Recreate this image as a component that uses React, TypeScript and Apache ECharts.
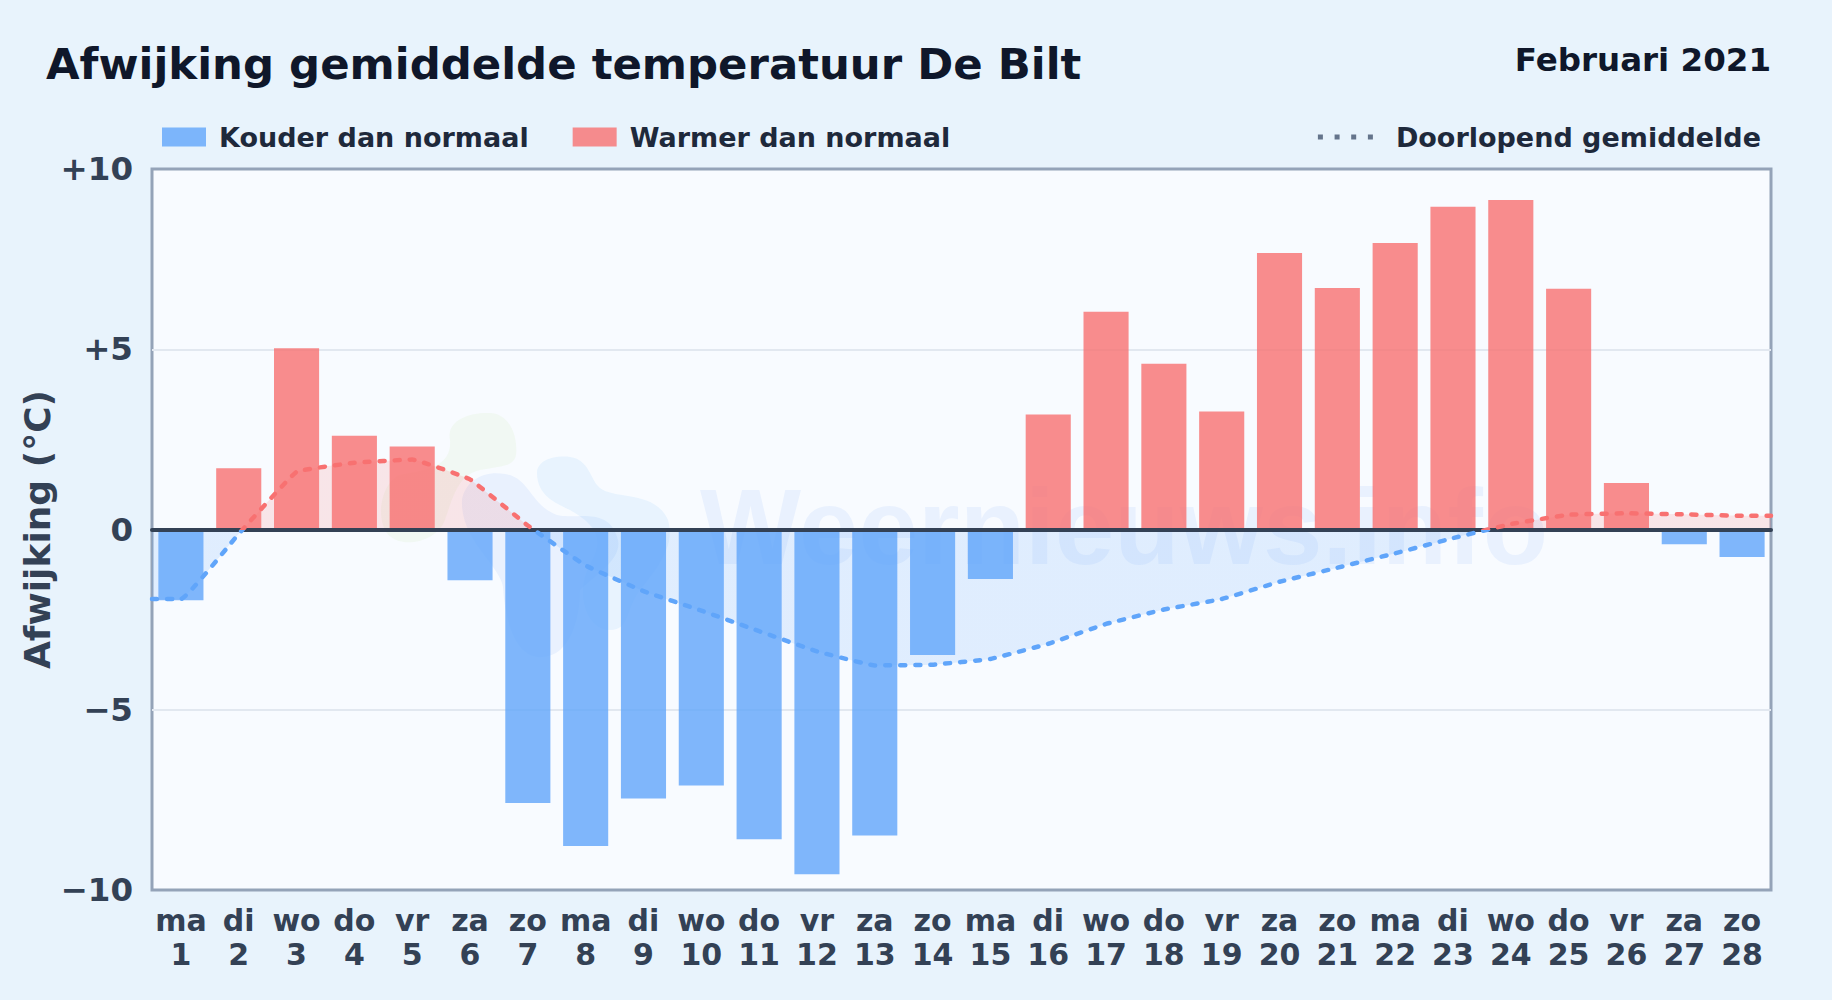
import React, { useEffect, useRef } from "react";
import * as echarts from "echarts";

const dayNames = ["ma","di","wo","do","vr","za","zo","ma","di","wo","do","vr","za","zo","ma","di","wo","do","vr","za","zo","ma","di","wo","do","vr","za","zo"];
const dayNumbers = [1,2,3,4,5,6,7,8,9,10,11,12,13,14,15,16,17,18,19,20,21,22,23,24,25,26,27,28];
const deviation = [-1.96,1.7,5.03,2.6,2.3,-1.41,-7.59,-8.78,-7.46,-7.1,-8.59,-9.56,-8.49,-3.48,-1.37,3.19,6.04,4.6,3.27,7.67,6.7,7.95,8.95,9.14,6.68,1.29,-0.41,-0.76];
const runningMean = [-1.93,-0.12,1.6,1.85,1.94,1.39,0.11,-1.0,-1.71,-2.25,-2.82,-3.38,-3.77,-3.75,-3.59,-3.17,-2.62,-2.22,-1.93,-1.45,-1.06,-0.66,-0.24,0.15,0.41,0.45,0.42,0.38];
const yTicks: Record<string, string> = { "10": "+10", "5": "+5", "0": "0", "-5": "\u22125", "-10": "\u221210" };

const FONT = "DejaVu Sans";
const colderName = "Kouder dan normaal";
const warmerName = "Warmer dan normaal";
const meanName = "Doorlopend gemiddelde";

const categories = dayNames.map((d, i) => `${d}\n${dayNumbers[i]}`);
const colder = deviation.map((v) => (v < 0 ? v : null));
const warmer = deviation.map((v) => (v >= 0 ? v : null));
const meanPoints: [number, number][] = [
  [0, runningMean[0]],
  ...runningMean.map((v, i) => [i + 0.5, v] as [number, number]),
  [dayNumbers.length, runningMean[runningMean.length - 1]],
];

const BLOBS = [
  { d: "M450 440C446 420 470 412 490 413C512 414 518 440 516 455C514 467 500 466 480 470C460 475 455 490 445 520C435 545 395 550 385 530C375 510 385 480 400 475C430 470 452 465 450 440Z", fill: "rgba(190,225,150,0.11)" },
  { d: "M462 500C465 480 485 470 505 474C530 478 530 505 557 515C575 520 610 505 618 540C622 560 595 575 580 590C580 620 570 655 543 657C515 660 505 620 503 587C500 565 460 540 462 500Z", fill: "rgba(59,130,246,0.08)" },
  { d: "M537 473C537 460 555 455 570 457C590 460 590 480 600 488C615 500 655 490 668 520C675 545 660 565 640 590C625 610 630 630 610 630C585 630 575 590 590 565C600 545 605 530 570 510C555 503 537 495 537 473Z", fill: "rgba(125,190,245,0.13)" },
];
BLOBS.forEach((b, i) => {
  echarts.graphic.registerShape(`blob${i}`, echarts.graphic.extendPath(b.d, {}) as any);
});

const DOTS_ICON = "path://M0 0h5v5h-5zM16.7 0h5v5h-5zM33.3 0h5v5h-5zM50 0h5v5h-5z";

export default function App() {
  const ref = useRef<HTMLDivElement>(null);
  useEffect(() => {
    const chart = echarts.init(ref.current!, null, { renderer: "svg" });
    chart.setOption({
      animation: false,
      backgroundColor: "#e8f3fc",
      textStyle: { fontFamily: FONT },
      title: [
        { text: "Afwijking gemiddelde temperatuur De Bilt", left: 41, top: 37.5, textStyle: { fontFamily: FONT, fontSize: 43.4, fontWeight: "bold", color: "#0f172a" } },
        { text: "Februari 2021", right: 56, top: 38.5, textStyle: { fontFamily: FONT, fontSize: 32.5, fontWeight: "bold", color: "#0f172a" } },
      ],
      grid: { left: 152, right: 61, top: 169, bottom: 110, show: true, backgroundColor: "#f8fbff", borderColor: "#94a3b8", borderWidth: 3 },
      legend: [
        { left: 162, top: 123.5, padding: 0, itemWidth: 44, itemHeight: 19, itemGap: 44, icon: "rect", data: [colderName, warmerName], textStyle: { fontFamily: FONT, fontSize: 27, fontWeight: "bold", color: "#1e293b", padding: [0, 0, 0, 8] } },
        { right: 71, top: 123.5, padding: 0, itemWidth: 55, itemHeight: 5, data: [{ name: meanName, icon: DOTS_ICON }], itemStyle: { color: "#64748b" }, textStyle: { fontFamily: FONT, fontSize: 27, fontWeight: "bold", color: "#1e293b", padding: [0, 0, 0, 18] } },
      ],
      visualMap: { show: false, type: "piecewise", dimension: 1, seriesIndex: [0, 3], pieces: [{ gte: -10, lt: 0, color: "#60a5fa" }, { gte: 0, lte: 10, color: "#f87171" }] },
      xAxis: [
        {
          type: "category", data: categories, boundaryGap: true, position: "bottom",
          axisLine: { show: false, onZero: false }, axisTick: { show: false },
          axisLabel: { interval: 0, fontFamily: FONT, fontSize: 30, fontWeight: "bold", color: "#334155", lineHeight: 34, margin: 13 },
        },
        {
          type: "value", min: 0, max: dayNumbers.length, z: 5,
          axisLine: { show: true, onZero: true, lineStyle: { color: "#334155", width: 4 } },
          axisTick: { show: false }, axisLabel: { show: false }, splitLine: { show: false },
        },
      ],
      yAxis: {
        type: "value", min: -10, max: 10, interval: 5,
        name: "Afwijking (\u00b0C)", nameLocation: "middle", nameGap: 97, nameMoveOverlap: false,
        nameTextStyle: { fontFamily: FONT, fontSize: 36, fontWeight: "bold", color: "#334155" },
        axisLine: { show: false }, axisTick: { show: false },
        axisLabel: { fontFamily: FONT, fontSize: 32.5, fontWeight: "bold", color: "#334155", margin: 19, formatter: (v: number) => yTicks[String(v)] },
        splitLine: { showMinLine: false, showMaxLine: false, lineStyle: { color: "#e2e8f0", width: 2 } },
      },
      graphic: [
        ...BLOBS.map((b, i) => ({ type: `blob${i}`, z: 1, silent: true, style: { fill: b.fill } })),
        { type: "text", x: 700, y: 527, z: 1, silent: true, style: { text: "Weernieuws.info", fontFamily: "Liberation Sans", fontWeight: "bold", fontSize: 107, fill: "rgba(59,130,246,0.08)", verticalAlign: "middle" } },
      ],
      series: [
        { type: "line", name: "meanArea", xAxisIndex: 1, data: meanPoints, smooth: 0.08, symbol: "none", lineStyle: { width: 0 }, areaStyle: { opacity: 0.16, origin: 0 }, z: 1, silent: true },
        { type: "bar", name: colderName, xAxisIndex: 0, data: colder, barWidth: "78%", barGap: "-100%", itemStyle: { color: "rgba(96,165,250,0.8)" }, z: 2 },
        { type: "bar", name: warmerName, xAxisIndex: 0, data: warmer, barWidth: "78%", barGap: "-100%", itemStyle: { color: "rgba(248,113,113,0.8)" }, z: 2 },
        { type: "line", name: meanName, xAxisIndex: 1, data: meanPoints, smooth: 0.08, symbol: "none", lineStyle: { width: 4.5, type: [5, 10], cap: "round" }, z: 6 },
      ],
    });
    return () => chart.dispose();
  }, []);
  return <div ref={ref} style={{ position: "fixed", left: 0, top: 0, width: 1832, height: 1000 }} />;
}
